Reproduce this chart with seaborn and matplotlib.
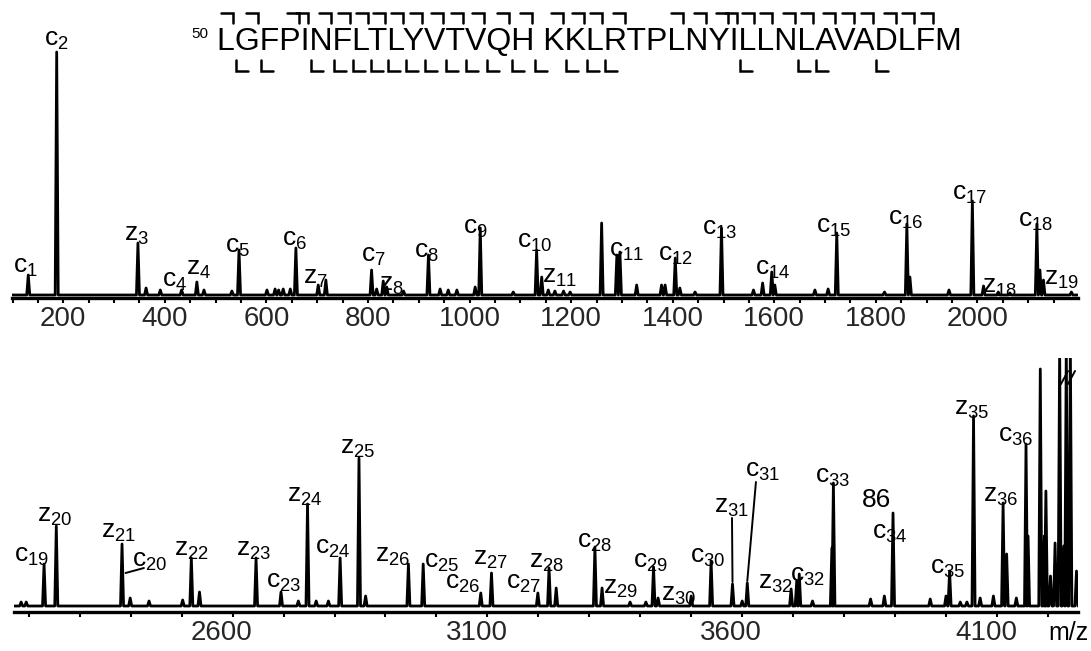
import numpy as np
import pandas as pd
import matplotlib
matplotlib.use("Agg")
import matplotlib.pyplot as plt
import matplotlib.transforms as mtransforms
import seaborn as sns
from matplotlib.font_manager import FontProperties

# ---------------- data ----------------
sequence = "LGFPINFLTLYVTVQH KKLRTPLNYILLNLAVADLFM"
seq_start = "50"
c_sites = [1, 2, 4, 5, 6, 7, 8, 9, 10, 11, 12, 13, 14, 15, 16, 17, 18, 19, 20,
           23, 24, 25, 26, 27, 28, 29, 30, 31, 32, 33, 34, 35, 36]
z_sites = [36, 35, 32, 31, 30, 29, 28, 27, 26, 25, 24, 23, 22, 21, 20, 19, 18, 11, 8, 7, 4]

top_mz = [131, 187, 347, 363, 391, 433, 463, 477, 532, 546,
          601, 617, 624, 633, 647, 658, 702, 717, 807, 817,
          830, 837, 870, 919, 942, 958, 975, 1011, 1021, 1086,
          1132, 1142, 1155, 1168, 1185, 1198, 1260, 1290, 1296, 1329,
          1378, 1385, 1405, 1414, 1444, 1496, 1559, 1577, 1595, 1601,
          1680, 1706, 1723, 1817, 1861, 1867, 1944, 1990, 2012, 2041,
          2064, 2117, 2123, 2130, 2185]
top_int = [20, 243, 52, 7, 5, 5, 13, 5, 4, 45,
           5, 6, 5, 6, 6, 47, 10, 15, 25, 6,
           14, 8, 4, 40, 6, 5, 5, 8, 67, 3,
           45, 18, 5, 4, 4, 3, 72, 40, 43, 10,
           10, 10, 37, 7, 3, 67, 5, 12, 23, 10,
           5, 6, 62, 3, 71, 18, 5, 94, 9, 3,
           2, 71, 25, 15, 3]
top_names = ["c1", "c2", "z3", "", "", "c4", "z4", "", "", "c5",
             "", "", "", "", "", "c6", "", "z7", "c7", "",
             "z8", "", "", "c8", "", "", "", "", "c9", "",
             "c10", "z11", "", "", "", "", "", "", "c11", "",
             "", "", "c12", "", "", "c13", "", "", "c14", "",
             "", "", "c15", "", "c16", "", "", "c17", "z18", "",
             "", "c18", "z19", "", ""]

bot_mz = [2185, 2195, 2230, 2254, 2383, 2399, 2436, 2502, 2519, 2535,
          2646, 2695, 2729, 2747, 2764, 2788, 2811, 2848, 2861, 2945,
          2974, 3087, 3108, 3199, 3221, 3235, 3311, 3325, 3380, 3411,
          3426, 3435, 3500, 3539, 3581, 3600, 3610, 3696, 3707, 3712,
          3738, 3776, 3779, 3852, 3879, 3896, 3969, 4000, 4007, 4028,
          4041, 4054, 4067, 4093, 4112, 4119, 4138, 4157, 4161, 4185,
          4193, 4196, 4205, 4214, 4223, 4231, 4236, 4244, 4256]
bot_int = [4, 4, 42, 80, 62, 8, 5, 6, 48, 14,
           48, 14, 5, 102, 5, 5, 48, 148, 10, 42,
           42, 13, 33, 13, 38, 18, 59, 18, 4, 4,
           39, 8, 10, 45, 22, 5, 23, 17, 25, 32,
           5, 58, 123, 7, 10, 93, 7, 10, 35, 4,
           4, 190, 8, 10, 103, 52, 8, 162, 70, 237,
           70, 115, 30, 63, 260, 60, 260, 260, 35]
bot_names = ["", "", "c19", "z20", "z21", "", "", "", "z22", "",
             "z23", "c23", "", "z24", "", "", "c24", "z25", "", "z26",
             "c25", "c26", "z27", "c27", "z28", "", "c28", "z29", "", "",
             "c29", "", "z30", "c30", "z31", "", "c31", "z32", "", "c32",
             "", "", "c33", "", "", "c34", "", "", "c35", "",
             "", "z35", "", "", "z36", "", "", "c36", "", "",
             "", "", "", "", "", "", "", "", ""]

top_ticks = [200, 400, 600, 800, 1000, 1200, 1400, 1600, 1800, 2000]
bot_ticks = [2600, 3100, 3600, 4100]

# ---------------- layout (label offsets relative to their peak) ----------------
top_labels = [("c1", "c1", -6, 8), ("c2", "c2", 0, 12), ("z3", "z3", -2, 8),
              ("c4", "c4", -14, 9), ("z4", "z4", 4, 13), ("c5", "c5", -2, 3),
              ("c6", "c6", -2, 8), ("z7", "z7", -21, 2), ("c7", "c7", 3, 14),
              ("z8", "z8", 17, -4), ("c8", "c8", -3, 3), ("c9", "c9", -10, 0),
              ("c10", "c10", -3, 8), ("z11", "z11", 36, 0), ("c11", "c11", 14, 1),
              ("c12", "c12", 1, 3), ("c13", "c13", -3, -1), ("c14", "c14", 2, 3),
              ("c15", "c15", -6, 6), ("c16", "c16", -2, 5), ("c17", "c17", -5, 7),
              ("z18", "z18", 32, -1), ("c18", "c18", -2, 3), ("z19", "z19", 43, -9)]
bot_labels = [("c19", "c19", -25, 8), ("z20", "z20", -4, 10), ("z21", "z21", -6, 12),
              ("c20", "z21", 55, -17), ("z22", "z22", 0, 8), ("z23", "z23", -4, 8),
              ("c23", "c23", 6, 10), ("z24", "z24", -6, 8), ("c24", "c24", -14, 10),
              ("z25", "z25", -3, 10), ("z26", "z26", -30, 8), ("c25", "c25", 37, 2),
              ("c26", "c26", -35, 10), ("z27", "z27", -1, 14), ("c27", "c27", -29, 10),
              ("z28", "z28", -4, 6), ("c28", "c28", -1, 5), ("z29", "z29", 36, 0),
              ("c29", "c29", -5, 5), ("z30", "z30", -24, 1), ("c30", "c30", -6, 4),
              ("z31", "z31", -1, 77), ("c31", "c31", 29, 112), ("z32", "z32", -31, 6),
              ("c32", "c32", 17, -2), ("c33", "c33", -2, 6), ("86", "c34", -33, 13),
              ("c34", "c34", -6, -20), ("c35", "c35", -3, 3), ("z35", "z35", -3, 7),
              ("z36", "z36", -4, 7), ("c36", "c36", -21, 8)]
bot_leaders = [("z21", (7, -29), (43, -24)), ("z31", (-1, 66), (0, 2)),
               ("c31", (17, 101), (0, 2))]

# ---------------- style ----------------
sns.set_theme(style="white")
plt.rcParams["font.family"] = ["Liberation Sans", "DejaVu Sans"]
plt.rcParams["mathtext.fontset"] = "custom"
plt.rcParams["mathtext.rm"] = "Liberation Sans"
plt.rcParams["mathtext.it"] = "Liberation Sans"

W, H = 1091, 651
fig = plt.figure(figsize=(W / 100, H / 100), dpi=100)
fig.patch.set_facecolor("white")


def profile(mz, inten, lo, hi, w=3.0):
    xs, ys = [lo], [0.0]
    for m, h in sorted(zip(mz, inten)):
        xs += [m - w, m, m + w]
        ys += [0.0, h, 0.0]
    xs.append(hi)
    ys.append(0.0)
    return pd.DataFrame({"mz": xs, "intensity": ys})


def label_text(s):
    if s[0] in "cz":
        return r"$\mathregular{%s_{%s}}$" % (s[0], s[1:])
    return s


def make_panel(rect, xlim, ylim, mz, inten, names, ticks, minor_step, labels,
               leaders, label_shift=0):
    ax = fig.add_axes(rect)
    ax.patch.set_alpha(0)
    df = profile(mz, inten, xlim[0], xlim[1])
    sns.lineplot(data=df, x="mz", y="intensity", ax=ax, color="black",
                 lw=2.0, estimator=None, sort=False)
    ax.set_xlim(*xlim)
    ax.set_ylim(*ylim)
    ax.set_xlabel("")
    ax.set_ylabel("")
    ax.set_yticks([])
    ax.set_xticks(ticks)
    ax.set_xticklabels([str(t) for t in ticks])
    start = np.ceil(xlim[0] / minor_step) * minor_step
    ax.set_xticks(np.arange(start, xlim[1], minor_step), minor=True)
    ax.tick_params(axis="x", which="both", direction="out", length=3.5, width=1.5,
                   color="black", pad=2, labelsize=20, bottom=True)
    if label_shift:
        off = mtransforms.ScaledTranslation(label_shift / 100, 0, fig.dpi_scale_trans)
        for lab in ax.get_xticklabels():
            lab.set_transform(lab.get_transform() + off)
    for s in ["top", "left", "right"]:
        ax.spines[s].set_visible(False)
    ax.spines["bottom"].set_linewidth(2.4)
    ax.spines["bottom"].set_color("black")
    lookup = {n: (m, h) for m, h, n in zip(mz, inten, names) if n}
    for txt, pk, dx, dy in labels:
        m, h = lookup[pk]
        ax.text(m + dx, min(h, ylim[1]) + dy, label_text(txt), fontsize=19,
                ha="center", va="center", clip_on=False, color="black")
    for pk, p0, p1 in leaders:
        m, h = lookup[pk]
        ax.plot([m + p0[0], m + p1[0]], [h + p0[1], h + p1[1]], color="black",
                lw=1.4, clip_on=False)
    return ax


ax1 = make_panel([12 / W, (H - 298) / H, (1078 - 12) / W, (298 - 39) / H],
                 (99, 2198), (-3, 256), top_mz, top_int, top_names,
                 top_ticks, 50, top_labels, [])
ax2 = make_panel([14 / W, (H - 612) / H, (1078 - 14) / W, (612 - 358) / H],
                 (2171, 4259), (-6, 248), bot_mz, bot_int, bot_names,
                 bot_ticks, 100, bot_labels, bot_leaders, label_shift=-11)

# ---------------- overlay: sequence, brackets, m/z ----------------
ov = fig.add_axes([0, 0, 1, 1])
ov.set_xlim(0, W)
ov.set_ylim(H, 0)
ov.axis("off")
ov.patch.set_alpha(0)

seq_x0, seq_base = 217, 50
fp = FontProperties(family="Liberation Sans", size=23)
ov.text(seq_x0, seq_base, sequence, fontproperties=fp, ha="left", va="baseline",
        color="black")
ov.text(191, 38, seq_start, fontsize=11, ha="left", va="baseline", color="black")

renderer = fig.canvas.get_renderer()


def boundary(n):
    idx = n if n <= 16 else n + 1
    if idx == 0:
        return seq_x0
    w, _, _ = renderer.get_text_width_height_descent(sequence[:idx], fp, ismath=False)
    return seq_x0 + w


for n in c_sites:
    bx = boundary(n) - 2
    ov.plot([bx - 12, bx, bx], [13, 13, 23], color="black", lw=1.8,
            solid_joinstyle="miter")
for k in z_sites:
    bx = boundary(37 - k) + 1
    ov.plot([bx, bx, bx + 12], [60, 71, 71], color="black", lw=1.8,
            solid_joinstyle="miter")

ov.text(1089, 633, "m/z", fontsize=18, ha="right", va="center", color="black")
# axis break marks
ov.plot([1061, 1068], [384, 371], color="black", lw=1.4)
ov.plot([1068, 1075], [384, 371], color="black", lw=1.4)

fig.savefig("out.png", dpi=100, facecolor="white")
